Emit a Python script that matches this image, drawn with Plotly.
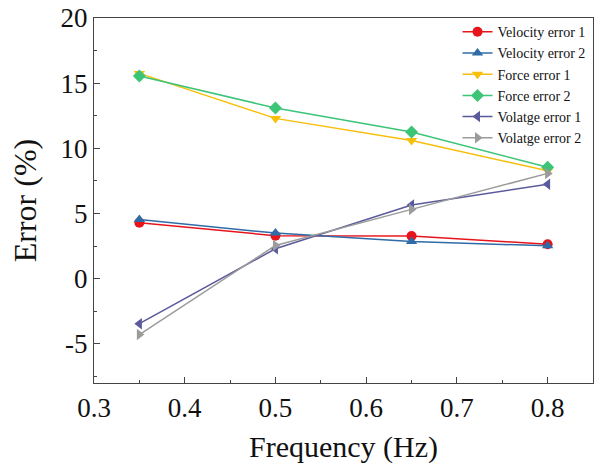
import plotly.graph_objects as go

freq = [0.35, 0.5, 0.65, 0.8]
velocity_error_1 = [4.3, 3.3, 3.28, 2.65]
velocity_error_2 = [4.55, 3.5, 2.85, 2.52]
force_error_1 = [15.75, 12.3, 10.6, 8.28]
force_error_2 = [15.55, 13.1, 11.25, 8.55]
voltage_error_1 = [-3.45, 2.3, 5.65, 7.25]
voltage_error_2 = [-4.28, 2.55, 5.32, 8.08]

x_ticks = [0.3, 0.4, 0.5, 0.6, 0.7, 0.8]
x_tick_labels = ["0.3", "0.4", "0.5", "0.6", "0.7", "0.8"]
y_ticks = [-5, 0, 5, 10, 15, 20]
y_tick_labels = ["-5", "0", "5", "10", "15", "20"]

series = [
    ("Velocity error 1", velocity_error_1, "#E8141B", "circle"),
    ("Velocity error 2", velocity_error_2, "#2F6BA6", "triangle-up"),
    ("Force error 1", force_error_1, "#F7BE0A", "triangle-down"),
    ("Force error 2", force_error_2, "#3CC477", "diamond"),
    ("Volatge error 1", voltage_error_1, "#5A5A9C", "triangle-left"),
    ("Volatge error 2", voltage_error_2, "#9B9B9B", "triangle-right"),
]

fig = go.Figure()
for name, vals, col, sym in series:
    fig.add_trace(go.Scatter(
        x=freq, y=vals, name=name, mode="lines+markers",
        line=dict(color=col, width=1.5),
        marker=dict(color=col, symbol=sym, size=10),
    ))

font_family = "Liberation Serif, Times New Roman, serif"
axis_common = dict(
    showline=True, linecolor="#444", linewidth=1.2, mirror=True,
    ticks="inside", ticklen=6, tickwidth=1, tickcolor="#444",
    showgrid=False, zeroline=False,
    tickfont=dict(family=font_family, size=27, color="#111"),
)
fig.update_layout(
    width=597, height=465,
    margin=dict(l=94, r=3, t=16, b=82),
    paper_bgcolor="white", plot_bgcolor="white",
    font=dict(family=font_family, color="#111"),
    xaxis=dict(range=[0.3, 0.85], tickvals=x_ticks, ticktext=x_tick_labels,
               minor=dict(ticks="inside", ticklen=3, dtick=0.05, tick0=0.3, tickcolor="#444"),
               title=dict(text="Frequency (Hz)", font=dict(family=font_family, size=30), standoff=14),
               **axis_common),
    yaxis=dict(range=[-8, 20], tickvals=y_ticks, ticktext=y_tick_labels,
               minor=dict(ticks="inside", ticklen=3, dtick=2.5, tick0=0, tickcolor="#444"),
               title=dict(text="Error (%)", font=dict(family=font_family, size=32), standoff=14),
               **axis_common),
    legend=dict(x=0.995, y=1.005, xanchor="right", yanchor="top",
                bgcolor="rgba(0,0,0,0)", font=dict(family=font_family, size=14, color="#111"),
                tracegroupgap=0, itemwidth=30),
)
fig.write_html("out.html")
